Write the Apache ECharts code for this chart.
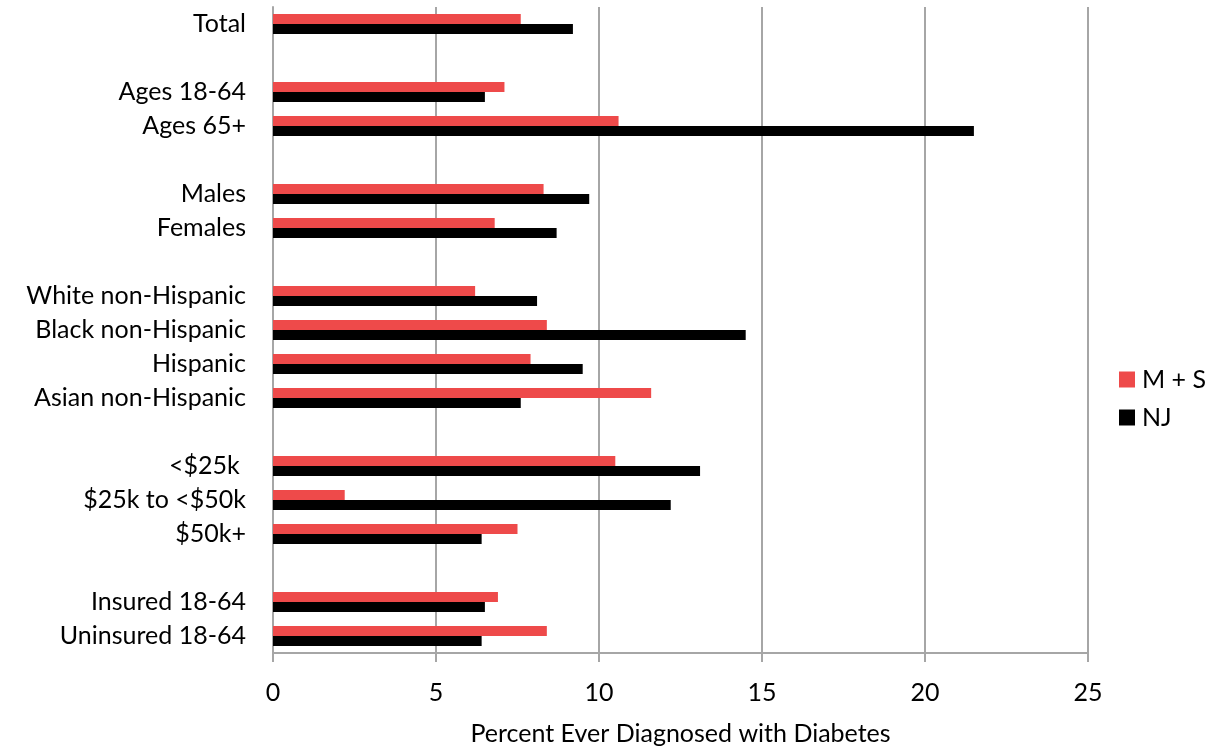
<!DOCTYPE html>
<html>
<head>
<meta charset="utf-8">
<script src="https://cdn.jsdelivr.net/npm/echarts@6/dist/echarts.min.js"></script>
<style>
html,body{margin:0;padding:0;background:#fff;}
#c{width:1211px;height:748px;}
</style>
</head>
<body>
<div id="c"></div>
<script>
var categories = ["Total", " ", "Ages 18-64", "Ages 65+", "  ", "Males", "Females", "   ",
  "White non-Hispanic", "Black non-Hispanic", "Hispanic", "Asian non-Hispanic", "    ",
  "<$25k ", "$25k to <$50k", "$50k+", "     ", "Insured 18-64", "Uninsured 18-64"];
var msValues = [7.6, null, 7.1, 10.6, null, 8.3, 6.8, null, 6.2, 8.4, 7.9, 11.6, null, 10.5, 2.2, 7.5, null, 6.9, 8.4];
var njValues = [9.2, null, 6.5, 21.5, null, 9.7, 8.7, null, 8.1, 14.5, 9.5, 7.6, null, 13.1, 12.2, 6.4, null, 6.5, 6.4];
var xTicks = [0, 5, 10, 15, 20, 25];
var seriesNames = ["M + S", "NJ"];

var FONT = "Lato";
var FS = 25;
var chart = echarts.init(document.getElementById('c'), null, {renderer: 'canvas'});
chart.setOption({
  animation: false,
  backgroundColor: '#ffffff',
  textStyle: {fontFamily: FONT, color: '#000'},
  legend: {
    orient: 'vertical',
    left: 1114, top: 362,
    itemWidth: 16, itemHeight: 16, itemGap: 13,
    icon: 'rect',
    textStyle: {fontFamily: FONT, fontSize: FS, color: '#000', padding: [0,0,0,2]},
    data: seriesNames
  },
  grid: {left: 273, right: 123, top: 7, bottom: 95, containLabel: false, outerBoundsMode: 'none'},
  xAxis: {
    type: 'value', min: xTicks[0], max: xTicks[xTicks.length-1], interval: 5,
    name: 'Percent Ever Diagnosed with Diabetes',
    nameLocation: 'middle', nameGap: 68,
    nameTextStyle: {fontFamily: FONT, fontSize: FS, color: '#000'},
    axisLine: {show: true, lineStyle: {color: '#A6A6A6', width: 2}},
    axisTick: {show: true, length: 9, lineStyle: {color: '#A6A6A6', width: 2}},
    axisLabel: {fontFamily: FONT, fontSize: FS, color: '#000', margin: 27},
    splitLine: {show: true, lineStyle: {color: '#A6A6A6', width: 2}}
  },
  yAxis: {
    type: 'category', data: categories, inverse: true,
    axisLine: {show: true, lineStyle: {color: '#A6A6A6', width: 2}},
    axisTick: {show: false},
    axisLabel: {fontFamily: FONT, fontSize: FS, color: '#000', margin: 27, interval: 0}
  },
  series: [
    {name: seriesNames[0], type: 'bar', data: msValues, barWidth: 10, barGap: '0%',
     itemStyle: {color: '#EE4A4A'}},
    {name: seriesNames[1], type: 'bar', data: njValues, barWidth: 10, barGap: '0%',
     itemStyle: {color: '#000000'}}
  ]
});
</script>
</body>
</html>
